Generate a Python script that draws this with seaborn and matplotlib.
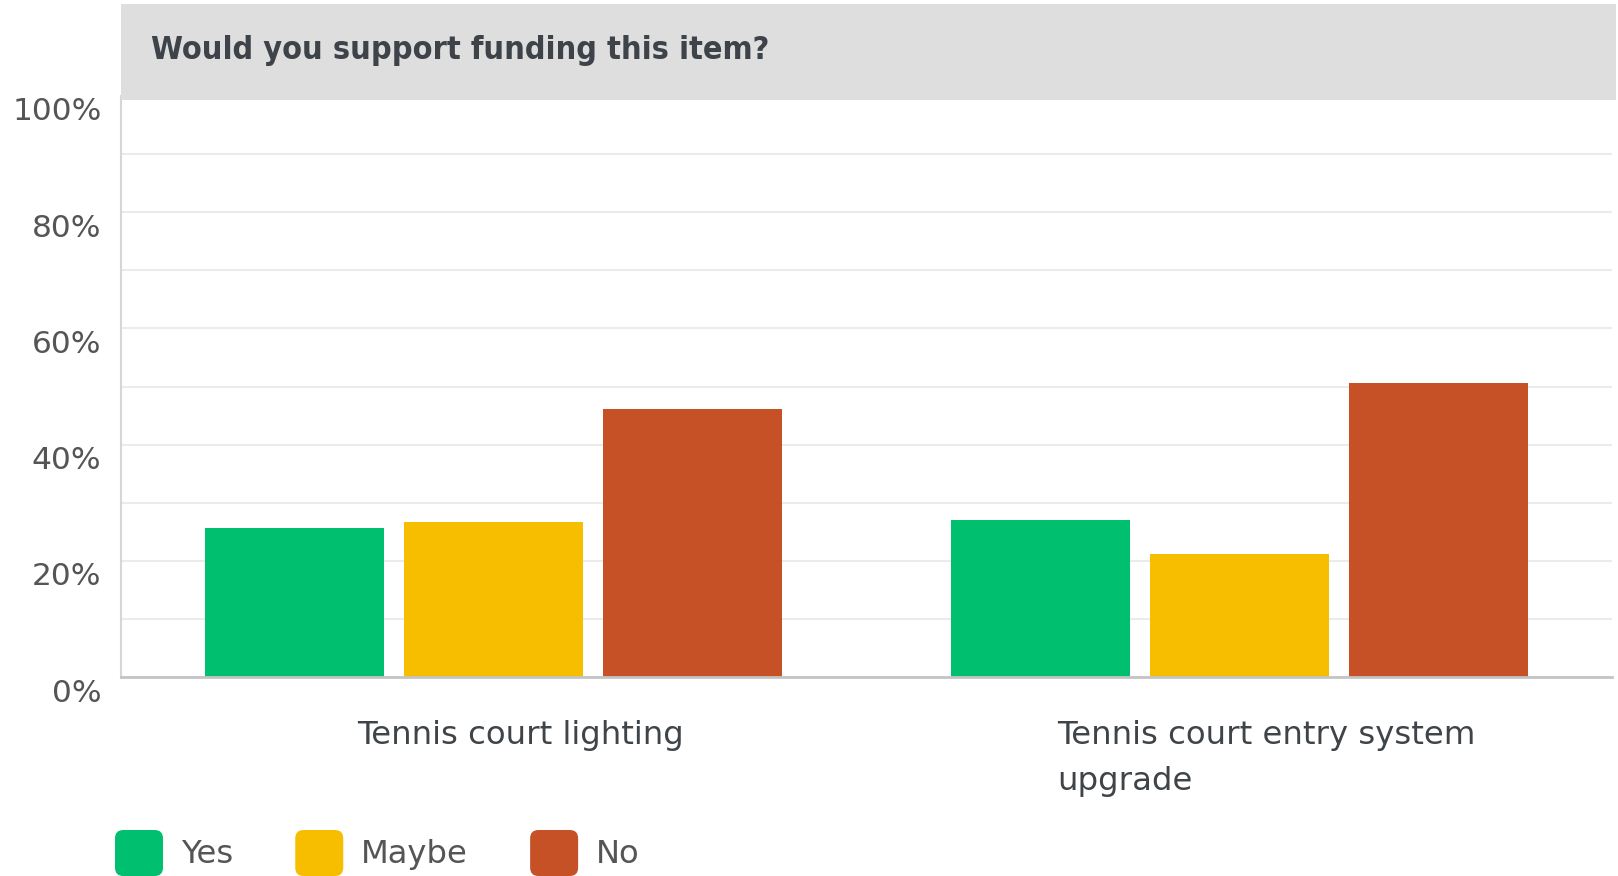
import textwrap
import numpy as np
import pandas as pd
import matplotlib
matplotlib.use("Agg")
import matplotlib.pyplot as plt
import seaborn as sns
from matplotlib import font_manager as fm
from matplotlib.patches import Rectangle, FancyBboxPatch, Patch
from matplotlib.legend_handler import HandlerPatch
from matplotlib.transforms import ScaledTranslation

# ---------------- data ----------------
title = "Would you support funding this item?"
items = ["Tennis court lighting", "Tennis court entry system upgrade"]
answers = ["Yes", "Maybe", "No"]
yes_pct = [25.6, 27.0]
maybe_pct = [26.6, 21.1]
no_pct = [46.1, 50.6]
y_ticks = [0, 20, 40, 60, 80, 100]
y_tick_labels = ["0%", "20%", "40%", "60%", "80%", "100%"]

colors = ["#00BF6F", "#F7BE00", "#C65127"]

rows = []
for i, item in enumerate(items):
    for ans, vals in zip(answers, [yes_pct, maybe_pct, no_pct]):
        rows.append({"item": item, "answer": ans, "pct": vals[i]})
df = pd.DataFrame(rows)

# ---------------- style ----------------
sns.set_theme(style="white")
plt.rcParams["font.family"] = ["DejaVu Sans"]

W, H = 1618, 876
fig = plt.figure(figsize=(W / 100, H / 100), dpi=100)
fig.patch.set_facecolor("white")

def fx(px):
    return px / W

def fy(py):
    return 1 - py / H

ax_left, ax_right, ax_bottom, ax_top = 121, 1612, 677, 96
ax = fig.add_axes([fx(ax_left), fy(ax_bottom), fx(ax_right - ax_left), (ax_bottom - ax_top) / H])

sns.barplot(data=df, x="item", y="pct", hue="answer", order=items, hue_order=answers,
            palette=colors, saturation=1, width=0.8, gap=0.1, linewidth=0,
            errorbar=None, legend=False, ax=ax, zorder=3)

ax.set_xlim(-0.5, 1.5)
ax.set_ylim(0, 100)
ax.set_xlabel("")
ax.set_ylabel("")

# grid
ax.set_yticks(np.arange(0, 101, 10), minor=True)
ax.set_yticks(y_ticks)
ax.set_yticklabels(y_tick_labels)
ax.yaxis.grid(True, which="both", color="#EBEBEB", linewidth=1.5, zorder=0)
ax.xaxis.grid(False)
ax.set_axisbelow(True)
ax.tick_params(axis="y", which="both", length=0, pad=14, labelsize=22.5, labelcolor="#555555")
ax.tick_params(axis="x", length=0, pad=31, labelsize=23.3, labelcolor="#3F4449")

for lab in ax.get_yticklabels():
    lab.set_transform(lab.get_transform() + ScaledTranslation(0, -13 / 100, fig.dpi_scale_trans))

wrapped = [textwrap.fill(t, 25) for t in items]
ax.set_xticks(range(len(items)))
ax.set_xticklabels(wrapped)
for lab in ax.get_xticklabels():
    lab.set_multialignment("left")
    lab.set_linespacing(1.62)
    lab.set_transform(lab.get_transform() + ScaledTranslation(27 / 100, 0, fig.dpi_scale_trans))

for s in ["top", "right"]:
    ax.spines[s].set_visible(False)
ax.spines["left"].set_color("#D6D6D6")
ax.spines["left"].set_linewidth(1.5)
ax.spines["bottom"].set_color("#C4C4C4")
ax.spines["bottom"].set_linewidth(2)
ax.spines["bottom"].set_zorder(4)

# header band
band = Rectangle((fx(121), fy(100)), fx(1616 - 121), (100 - 4) / H, transform=fig.transFigure,
                 facecolor="#DEDEDE", edgecolor="none", zorder=5)
fig.add_artist(band)

# title font selection (condensed bold)
title_kw = dict(family="DejaVu Sans", weight="bold")
have = [(f.name, str(f.stretch)) for f in fm.fontManager.ttflist]
if any(n == "DejaVu Sans" and "condensed" in s for n, s in have):
    title_kw = dict(family="DejaVu Sans", weight="bold", stretch="condensed")

ttl = fig.text(fx(151), fy(59.5), title, ha="left", va="baseline", color="#3D4349",
               fontsize=24, zorder=6, **title_kw)
renderer = fig.canvas.get_renderer()
bb = ttl.get_window_extent(renderer)
ttl.set_fontsize(24 * 619 / bb.width)

# legend with rounded swatches
class RoundHandler(HandlerPatch):
    def create_artists(self, legend, orig_handle, xdescent, ydescent, width, height, fontsize, trans):
        p = FancyBboxPatch((-xdescent + 4, -ydescent + 4), width - 8, height - 8,
                           boxstyle="round,pad=4,rounding_size=6",
                           facecolor=orig_handle.get_facecolor(), edgecolor="none", transform=trans)
        return [p]

handles = [Patch(facecolor=c, label=a) for c, a in zip(colors, answers)]
leg_fs = 23.2
em = leg_fs * 100 / 72
hh = (46 / em - 0.245) / 0.65
leg = fig.legend(handles=handles, labels=answers, loc="upper left",
                 bbox_to_anchor=(fx(115), fy(830)), ncol=3, frameon=False,
                 fontsize=leg_fs, borderpad=0, borderaxespad=0,
                 handlelength=48 / em, handleheight=hh, handletextpad=18 / em,
                 columnspacing=62 / em,
                 handler_map={Patch: RoundHandler()})
for t in leg.get_texts():
    t.set_color("#555555")

fig.savefig("out.png", dpi=100, facecolor="white")
